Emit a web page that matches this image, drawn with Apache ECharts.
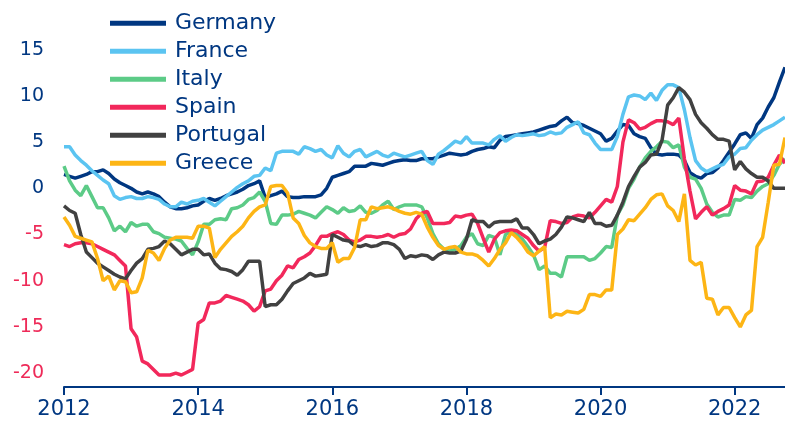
<!DOCTYPE html>
<html>
<head>
<meta charset="utf-8">
<script src="https://cdn.jsdelivr.net/npm/echarts@6/dist/echarts.min.js"></script>
<style>
html,body{margin:0;padding:0;background:#fff;}
#chart{width:785px;height:425px;}
</style>
</head>
<body>
<div id="chart"></div>
<script>
// Monthly categories Jan 2012 – Oct 2022
const startYear = 2012;
const monthCount = 130;
const months = [];
for (let k = 0; k < monthCount; k++) {
  const y = startYear + Math.floor(k / 12);
  const m = (k % 12) + 1;
  months.push(y + '-' + (m < 10 ? '0' + m : m));
}

const yTickValues = [-20, -15, -10, -5, 0, 5, 10, 15];
const seriesNames = ['Germany', 'France', 'Italy', 'Spain', 'Portugal', 'Greece'];

const germany = [1.5,1.3,1.1,1.3,1.5,1.8,1.8,2.0,1.6,1.0, 0.6,0.3,0.0,-0.4,-0.6,-0.4,-0.6,-0.9,-1.5,-2.0, -2.2,-2.2,-2.1,-1.9,-1.8,-1.4,-1.1,-1.3,-1.1,-0.8, -0.6,-0.4,-0.1,0.3,0.5,0.8,-1.0,-0.8,-0.6,-0.3, -0.9,-1.0,-1.0,-0.9,-0.9,-0.9,-0.7,0.0,1.2,1.4, 1.6,1.8,2.4,2.4,2.4,2.7,2.6,2.5,2.7,2.9, 3.0,3.1,3.0,3.0,3.2,3.2,3.2,3.4,3.6,3.8, 3.7,3.6,3.7,4.0,4.2,4.3,4.5,4.4,5.2,5.6, 5.7,5.8,5.9,6.0,6.1,6.3,6.5,6.7,6.8,7.3, 7.7,7.1,7.0,6.8,6.5,6.2,5.9,5.1,5.4,6.2, 6.9,6.8,5.9,5.6,5.4,4.4,3.7,3.6,3.7,3.7, 3.6,3.0,1.7,1.3,1.1,1.6,1.7,2.2,3.0,3.9, 4.8,5.8,6.0,5.4,6.9,7.6,8.8,9.8,11.5,13.1];

const france = [4.5,4.5,3.6,3.0,2.5,1.9,1.4,0.9,0.5,-0.8, -1.2,-1.0,-0.9,-1.1,-1.1,-0.9,-1.0,-1.2,-1.7,-2.0, -2.0,-1.5,-1.7,-1.4,-1.3,-1.1,-1.5,-1.9,-1.4,-0.9, -0.4,0.1,0.5,0.8,1.3,1.4,2.2,1.9,3.8,4.0, 4.0,4.0,3.7,4.5,4.3,4.0,4.2,3.6,3.3,4.6, 3.8,3.4,4.0,4.2,3.4,3.7,4.0,3.6,3.4,3.8, 3.6,3.4,3.6,3.8,4.0,3.0,2.6,3.7,4.1,4.6, 5.1,4.9,5.6,4.9,4.9,4.9,4.7,5.3,5.7,5.1, 5.5,5.8,5.7,5.8,5.9,5.7,5.8,6.1,5.9,6.0, 6.6,6.9,7.2,6.0,5.8,4.9,4.2,4.2,4.2,5.6, 8.0,9.9,10.1,10.0,9.6,10.3,9.5,10.6,11.2,11.2, 10.9,8.5,5.5,3.0,2.2,1.8,2.1,2.4,2.6,3.4, 3.7,4.3,4.4,5.2,5.8,6.3,6.6,6.9,7.3,7.7];

const italy = [2.4,0.8,-0.2,-0.8,0.3,-0.9,-2.1,-2.1,-3.2,-4.6, -4.1,-4.7,-3.7,-4.1,-3.9,-3.9,-4.7,-4.9,-5.3,-5.4, -5.5,-5.7,-6.5,-7.2,-5.8,-3.9,-3.9,-3.4,-3.3,-3.4, -2.2,-2.1,-1.8,-1.2,-1.0,-0.4,-1.4,-3.8,-3.9,-2.9, -2.9,-2.8,-2.5,-2.7,-2.9,-3.2,-2.6,-2.0,-2.3,-2.7, -2.1,-2.5,-2.4,-1.9,-2.6,-2.7,-2.4,-1.8,-1.4,-2.3, -2.0,-1.8,-1.8,-1.8,-2.0,-3.2,-4.9,-6.0,-6.6,-6.8, -6.6,-6.2,-5.3,-4.9,-6.0,-6.2,-5.1,-5.3,-7.2,-5.0, -4.7,-5.0,-5.5,-6.3,-7.2,-8.8,-8.4,-9.2,-9.2,-9.6, -7.4,-7.4,-7.4,-7.4,-7.8,-7.6,-7.0,-6.3,-6.4,-2.9, -1.8,0.0,1.0,2.3,3.3,4.0,4.5,5.1,5.0,4.4, 4.7,2.3,1.2,1.0,0.0,-1.7,-2.6,-3.1,-2.9,-2.9, -1.2,-1.3,-0.9,-1.0,-0.3,0.2,0.5,1.4,2.6,3.2];

const spain = [-6.1,-6.3,-6.0,-5.9,-5.9,-6.0,-6.3,-6.6,-6.9,-7.2, -7.8,-8.4,-15.2,-16.1,-18.7,-19.0,-19.6,-20.2,-20.2,-20.2, -20.0,-20.2,-19.9,-19.6,-14.6,-14.2,-12.4,-12.4,-12.2,-11.6, -11.8,-12.0,-12.2,-12.6,-13.3,-12.8,-11.1,-10.9,-10.0,-9.4, -8.4,-8.6,-7.7,-7.4,-7.0,-6.2,-5.2,-5.2,-4.9,-4.7, -5.0,-5.6,-5.8,-5.6,-5.2,-5.2,-5.3,-5.2,-5.0,-5.3, -5.0,-4.9,-4.4,-3.3,-2.7,-2.5,-3.8,-3.8,-3.8,-3.7, -3.0,-3.1,-2.9,-2.8,-3.8,-5.4,-6.9,-5.5,-4.8,-4.6, -4.5,-4.6,-5.0,-5.4,-6.2,-6.8,-6.4,-3.5,-3.6,-3.8, -3.7,-3.1,-2.9,-3.0,-3.2,-2.6,-1.9,-1.2,-1.5,0.2, 5.0,7.4,7.1,6.4,6.6,7.0,7.3,7.3,7.2,6.9, 7.6,3.2,-0.3,-3.3,-2.6,-2.0,-2.9,-2.5,-2.2,-1.8, 0.3,-0.2,-0.3,-0.6,0.7,0.8,1.2,2.5,3.6,2.7];

const portugal = [-1.9,-2.4,-2.7,-5.0,-6.9,-7.5,-8.1,-8.5,-8.9,-9.3, -9.6,-9.8,-8.9,-8.1,-7.6,-6.6,-6.5,-6.3,-5.7,-6.0, -6.6,-7.2,-6.9,-6.6,-6.6,-7.2,-7.1,-8.1,-8.7,-8.8, -9.0,-9.4,-8.8,-7.9,-7.9,-7.9,-12.8,-12.6,-12.6,-12.0, -11.1,-10.3,-10.0,-9.7,-9.2,-9.5,-9.4,-9.3,-5.0,-5.3, -5.6,-5.7,-6.2,-6.3,-6.1,-6.3,-6.2,-5.9,-5.9,-6.1, -6.6,-7.6,-7.3,-7.4,-7.2,-7.3,-7.7,-7.2,-6.9,-7.0, -7.0,-6.8,-5.5,-3.4,-3.6,-3.6,-4.2,-3.7,-3.6,-3.6, -3.6,-3.3,-4.3,-4.3,-5.0,-6.0,-5.7,-5.5,-5.0,-4.2, -3.1,-3.2,-3.4,-3.6,-2.6,-3.8,-3.8,-4.1,-4.0,-2.9, -1.5,0.2,1.3,2.3,2.8,3.6,3.7,5.2,9.0,9.8, 10.9,10.4,9.6,8.0,7.1,6.5,5.8,5.3,5.3,5.1, 2.0,2.9,2.1,1.6,1.2,1.2,0.8,0.0,0.0,0.0];

const greece = [-3.1,-4.0,-5.2,-5.4,-5.6,-5.8,-7.6,-10.0,-9.5,-11.0, -10.0,-10.1,-11.3,-11.2,-9.7,-6.7,-7.0,-7.8,-6.5,-5.6, -5.3,-5.3,-5.3,-5.4,-4.1,-4.1,-4.3,-7.5,-6.6,-5.9, -5.2,-4.7,-4.1,-3.2,-2.5,-2.0,-1.8,0.2,0.3,0.3, -0.5,-3.2,-3.8,-5.1,-5.9,-6.3,-6.5,-6.5,-5.9,-8.0, -7.6,-7.6,-6.4,-3.4,-3.4,-2.0,-2.2,-2.1,-2.0,-2.2, -2.5,-2.7,-2.8,-2.6,-2.8,-4.2,-5.3,-6.2,-6.6,-6.4, -6.3,-6.9,-7.1,-7.1,-7.3,-7.8,-8.4,-7.6,-6.6,-5.9, -4.8,-5.3,-6.0,-6.9,-7.3,-6.8,-6.3,-14.0,-13.6,-13.7, -13.3,-13.4,-13.5,-13.1,-11.5,-11.5,-11.7,-11.0,-11.0,-5.0, -4.4,-3.4,-3.5,-2.8,-2.1,-1.2,-0.7,-0.6,-1.9,-2.4, -3.6,-0.6,-7.8,-8.3,-8.0,-11.9,-12.0,-13.7,-12.9,-12.9, -14.0,-15.0,-13.7,-13.2,-6.3,-5.3,-1.5,2.5,2.6,5.5];

const seriesValues = [germany, france, italy, spain, portugal, greece];
const seriesColors = ['#003781', '#5bc4f1', '#5ccb87', '#f2285b', '#414141', '#fdb515'];

const NAVY = '#003781';
const NEG = '#ee2a58';
const FONT = 'DejaVu Sans';

const chart = echarts.init(document.getElementById('chart'), null, {renderer: 'canvas'});
chart.setOption({
  animation: false,
  backgroundColor: '#ffffff',
  grid: {left: 64, right: -2.2, top: 30.3, bottom: 38, containLabel: false},
  legend: {
    orient: 'vertical',
    left: 110,
    top: 9.3,
    padding: 0,
    icon: 'rect',
    itemWidth: 56,
    itemHeight: 5,
    itemGap: 0,
    data: seriesNames,
    textStyle: {color: NAVY, fontSize: 22, fontFamily: FONT, lineHeight: 18, padding: [0, 0, 10, 4]}
  },
  xAxis: {
    type: 'category',
    data: months,
    boundaryGap: false,
    axisLine: {show: true, onZero: false, lineStyle: {color: NAVY, width: 2}},
    axisTick: {show: true, length: 8, lineStyle: {color: NAVY, width: 2}, interval: function (i) { return i % 24 === 0; }},
    axisLabel: {
      interval: function (i) { return i % 24 === 0; },
      formatter: function (v) { return v.slice(0, 4); },
      color: NAVY, fontSize: 21, fontFamily: FONT, margin: 12
    },
    splitLine: {show: false}
  },
  yAxis: {
    type: 'value',
    min: -21.5,
    max: 17.1,
    axisLine: {show: false},
    axisTick: {show: false},
    splitLine: {show: false},
    axisLabel: {
      customValues: yTickValues,
      margin: 20,
      fontSize: 19,
      fontFamily: FONT,
      color: function (v) { return Number(v) < 0 ? NEG : NAVY; }
    }
  },
  series: seriesNames.map(function (name, k) {
    return {
      name: name,
      type: 'line',
      data: seriesValues[k],
      showSymbol: false,
      symbol: 'none',
      smooth: false,
      lineStyle: {width: 3.5, color: seriesColors[k]},
      itemStyle: {color: seriesColors[k]},
      emphasis: {disabled: true}
    };
  })
});
</script>
</body>
</html>
